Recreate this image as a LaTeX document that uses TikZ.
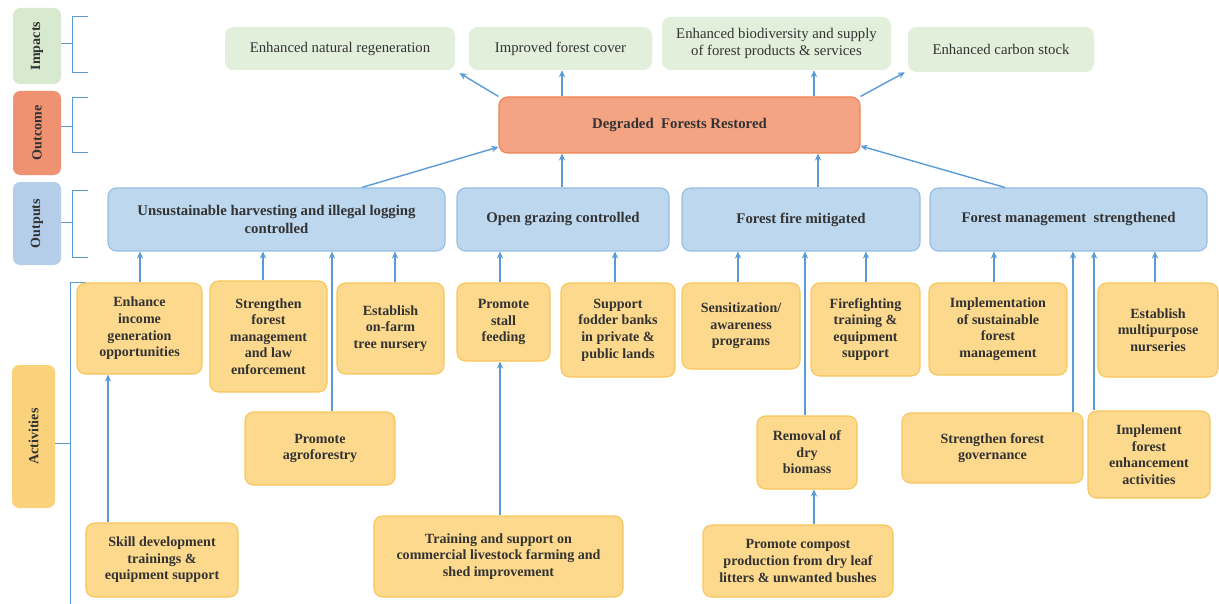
\documentclass[tikz,border=0pt]{standalone}
\usepackage{fontspec}
\setmainfont{Liberation Serif}
\usepackage{graphicx}
\usetikzlibrary{arrows.meta}

\definecolor{impfill}{HTML}{E2EFDA}
\definecolor{implab}{HTML}{D7E9CF}
\definecolor{ocfill}{HTML}{F5A483}
\definecolor{ocline}{HTML}{EF8452}
\definecolor{oclab}{HTML}{EE9272}
\definecolor{outfill}{HTML}{BDD7EE}
\definecolor{outline}{HTML}{96BEE4}
\definecolor{outlab}{HTML}{B4CEE9}
\definecolor{actfill}{HTML}{FCD98D}
\definecolor{actline}{HTML}{F7C65C}
\definecolor{actlab}{HTML}{FAD27C}
\definecolor{arrc}{HTML}{5B9BD5}
\definecolor{txt}{HTML}{333333}

% box from its corners: name, style, x1, y1, x2, y2, text
\newcommand\bx[7]{%
  \node[#2, minimum width={(#5-#3)*0.025cm}, minimum height={(#6-#4)*0.025cm}]
    (#1) at ({(#3+#5)/2},{(#4+#6)/2}) {#7};}

\begin{document}
\begin{tikzpicture}[x=0.025cm, y=-0.025cm,
  box/.style={rounded corners=6pt, inner sep=0pt, align=center, text=txt},
  imp/.style={box, fill=impfill, font=\fontsize{10.5}{12}\selectfont},
  oc/.style={box, fill=ocfill, draw=ocline, line width=0.8pt,
    font=\fontsize{10.5}{12}\bfseries},
  outp/.style={box, fill=outfill, draw=outline, line width=0.8pt,
    font=\fontsize{10.5}{12.5}\bfseries},
  act/.style={box, fill=actfill, draw=actline, line width=0.8pt,
    font=\fontsize{10}{11.8}\bfseries},
  lab/.style={box, rounded corners=5pt, font=\fontsize{10}{12}\bfseries},
  arr/.style={draw=arrc, line width=1pt, -{Stealth[length=5pt,width=4.5pt]}},
  brk/.style={draw=arrc, line width=0.7pt}]

\useasboundingbox (0,0) rectangle (1219,604);

% level labels on the left
\bx{limp}{lab, fill=implab}{13}{8}{61}{84}{\rotatebox{90}{Impacts}}
\bx{locm}{lab, fill=oclab}{13}{91}{61}{175}{\rotatebox{90}{Outcome}}
\bx{lout}{lab, fill=outlab}{13}{182}{61}{265}{\rotatebox{90}{Outputs}}
\bx{lact}{lab, fill=actlab}{12}{365}{55}{508}{\rotatebox{90}{Activities}}

% brackets
\draw[brk] (88,16) -- (72,16) -- (72,72) -- (88,72);
\draw[brk] (limp.east |- 0,43) -- (72,43);
\draw[brk] (88,97) -- (72,97) -- (72,152) -- (88,152);
\draw[brk] (locm.east |- 0,126) -- (72,126);
\draw[brk] (88,190) -- (72,190) -- (72,257) -- (88,257);
\draw[brk] (lout.east |- 0,222) -- (72,222);
\draw[brk] (86,282) -- (70,282) -- (70,604);
\draw[brk] (lact.east |- 0,443) -- (70,443);

% impacts
\bx{i1}{imp}{225}{27}{455}{70}{Enhanced natural regeneration}
\bx{i2}{imp}{469}{27}{652}{70}{Improved forest cover}
\bx{i3}{imp}{662}{17}{891}{70}{Enhanced biodiversity and supply\\of forest products \& services}
\bx{i4}{imp}{908}{27}{1094}{72}{Enhanced carbon stock}

% outcome
\bx{oc}{oc}{499}{97}{860}{153}{Degraded\ \ Forests Restored}

% outputs
\bx{o1}{outp}{108}{188}{445}{251}{Unsustainable harvesting and illegal logging\\controlled}
\bx{o2}{outp}{457}{188}{669}{251}{Open grazing controlled}
\bx{o3}{outp}{682}{188}{920}{251}{Forest fire mitigated}
\bx{o4}{outp}{930}{188}{1207}{251}{Forest management\ \ strengthened}

% activities
\bx{a1}{act}{77}{283}{202}{374}{Enhance\\income\\generation\\opportunities}
\bx{a2}{act}{210}{281}{327}{392}{Strengthen\\forest\\management\\and law\\enforcement}
\bx{a3}{act}{337}{283}{444}{374}{Establish\\on-farm\\tree nursery}
\bx{a4}{act}{245}{412}{395}{485}{Promote\\agroforestry}
\bx{a5}{act}{86}{523}{238}{597}{Skill development\\trainings \&\\equipment support}
\bx{b1}{act}{457}{283}{550}{361}{Promote\\stall\\feeding}
\bx{b2}{act}{561}{283}{675}{377}{Support\\fodder banks\\in private \&\\public lands}
\bx{b3}{act}{374}{516}{623}{597}{Training and support on\\commercial livestock farming and\\shed improvement}
\bx{c1}{act}{682}{283}{800}{369}{Sensitization/\\awareness\\programs}
\bx{c2}{act}{811}{283}{920}{376}{Firefighting\\training \&\\equipment\\support}
\bx{c3}{act}{757}{416}{857}{489}{Removal of\\dry\\biomass}
\bx{c4}{act}{703}{525}{893}{597}{Promote compost\\production from dry leaf\\litters \& unwanted bushes}
\bx{d1}{act}{929}{283}{1067}{375}{Implementation\\of sustainable\\forest\\management}
\bx{d2}{act}{1098}{283}{1218}{377}{Establish\\multipurpose\\nurseries}
\bx{d3}{act}{902}{413}{1083}{483}{Strengthen forest\\governance}
\bx{d4}{act}{1088}{411}{1210}{498}{Implement\\forest\\enhancement\\activities}

% outcome -> impacts
\draw[arr] (oc.north west) -- ([xshift=3pt,yshift=-2pt]i1.south east);
\draw[arr] (562,0 |- oc.north) -- (562,0 |- i2.south);
\draw[arr] (814,0 |- oc.north) -- (814,0 |- i3.south);
\draw[arr] (oc.north east) -- ([xshift=-2pt]i4.south west);

% outputs -> outcome
\draw[arr] (362,0 |- o1.north) -- (oc.west |- 0,147);
\draw[arr] (562,0 |- o2.north) -- (562,0 |- oc.south);
\draw[arr] (818,0 |- o3.north) -- (818,0 |- oc.south);
\draw[arr] (1005,0 |- o4.north) -- (oc.east |- 0,146);

% activities -> outputs
\draw[arr] (140,0 |- a1.north) -- (140,0 |- o1.south);
\draw[arr] (263,0 |- a2.north) -- (263,0 |- o1.south);
\draw[arr] (395,0 |- a3.north) -- (395,0 |- o1.south);
\draw[arr] (332,0 |- a4.north) -- (332,0 |- o1.south);
\draw[arr] (108,0 |- a5.north) -- (108,0 |- a1.south);
\draw[arr] (500,0 |- b1.north) -- (500,0 |- o2.south);
\draw[arr] (615,0 |- b2.north) -- (615,0 |- o2.south);
\draw[arr] (500,0 |- b3.north) -- (500,0 |- b1.south);
\draw[arr] (738,0 |- c1.north) -- (738,0 |- o3.south);
\draw[arr] (866,0 |- c2.north) -- (866,0 |- o3.south);
\draw[arr] (805,0 |- c3.north) -- (805,0 |- o3.south);
\draw[arr] (814,0 |- c4.north) -- (814,0 |- c3.south);
\draw[arr] (994,0 |- d1.north) -- (994,0 |- o4.south);
\draw[arr] (1155,0 |- d2.north) -- (1155,0 |- o4.south);
\draw[arr] (1073,0 |- d3.north) -- (1073,0 |- o4.south);
\draw[arr] (1094,0 |- d4.north) -- (1094,0 |- o4.south);
\end{tikzpicture}
\end{document}
